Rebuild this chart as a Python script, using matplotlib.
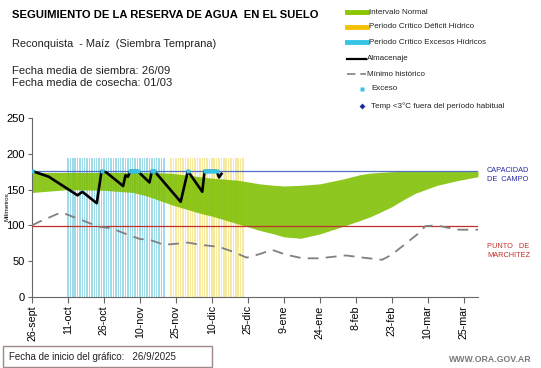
#!/usr/bin/env python3

import matplotlib
matplotlib.use('Agg')
import matplotlib.pyplot as plt
from matplotlib.lines import Line2D
from matplotlib.patches import Rectangle
import numpy as np

plt.rcParams['font.family'] = ['Liberation Sans', 'DejaVu Sans']

# days counted from 26-sept
tick_days = [0, 15, 30, 45, 60, 75, 90, 105, 120, 135, 150, 165, 180]
tick_labels = ['26-sept', '11-oct', '26-oct', '10-nov', '25-nov', '10-dic', '25-dic',
               '9-ene', '24-ene', '8-feb', '23-feb', '10-mar', '25-mar']

capacidad = 176
marchitez = 99
periodo_top = 194
exceso_period = (15, 55)    # periodo critico excesos hidricos
deficit_period = (58, 88)   # periodo critico deficit hidrico

# Intervalo normal (upper / lower)
band_days = [0, 15, 30, 42, 48, 58, 65, 70, 75, 86, 95, 101, 105, 112, 120, 130,
             137, 141, 145, 150, 155, 160, 169, 178, 186]
band_upper = [174, 174, 174, 174, 174, 173, 170, 168, 166, 163, 158, 156, 155, 156, 158, 165,
              171, 173, 174, 175, 176, 176, 176, 176, 176]
band_lower = [146, 150, 149, 146, 141, 129, 122, 117, 113, 102, 93, 88, 84, 82, 88, 99,
              107, 112, 118, 126, 136, 145, 156, 163, 168]

# Almacenaje
alm_days = [0, 7, 19, 21, 27, 29, 31, 38, 39, 40, 41, 44, 49, 50, 51, 62, 65, 71, 72, 77,
            78, 79]
alm_vals = [176, 168, 142, 147, 131, 176, 174, 155, 170, 168, 176, 176, 160, 176, 176, 133,
            176, 147, 176, 176, 167, 172]

# Minimo historico
min_days = [0, 3, 12, 14, 21, 28, 33, 40, 45, 49, 55, 59, 65, 70, 78, 84, 89.5, 95, 100,
            106, 113, 120, 125, 131, 138, 146, 150, 156, 162, 164, 169, 173, 178, 186]
min_vals = [100, 105, 118, 116, 107, 98, 96, 87, 81, 80, 73, 74, 76, 73, 70, 63, 55, 60, 66,
            59, 54, 54, 56, 58, 55, 52, 59, 75, 91, 99, 100, 97, 94, 94]

# Exceso
exceso_days = [0, 29, 41, 42, 43, 44, 50, 51, 65, 72, 73, 74, 75, 76, 77]

green = '#7fbf00'
cyan_bar = '#9fdbe9'
yellow_bar = '#f6e9a0'

W, H = 541, 368
fig = plt.figure(figsize=(W / 100, H / 100), dpi=100)
ax = fig.add_axes([32 / W, 1 - 297 / H, (478 - 32) / W, (297 - 118) / H])


def fx(px):
    return px / W


def fy(py):
    return 1 - py / H


ex = np.arange(exceso_period[0], exceso_period[1] + 1)
de = np.arange(deficit_period[0], deficit_period[1] + 1)
ax.bar(ex, periodo_top, width=0.62, color=cyan_bar, zorder=1)
ax.bar(de, periodo_top, width=0.62, color=yellow_bar, zorder=1)

ax.fill_between(band_days, band_lower, band_upper, color=green, alpha=0.87, lw=0, zorder=2)

ax.axhline(capacidad, color='#5570c8', lw=0.9, zorder=3)
ax.axhline(marchitez, color='#c0302a', lw=0.9, zorder=3)

ax.plot(min_days, min_vals, color='#808080', lw=1.3, dashes=(6, 4), zorder=4)
ax.plot(alm_days, alm_vals, color='black', lw=1.9, zorder=5)
ax.plot(exceso_days, [capacidad] * len(exceso_days), 's', color='#35c3e6', ms=3.2,
        mec='none', zorder=6)

ax.set_xlim(0, 186)
ax.set_ylim(0, 250)
ax.set_yticks([0, 50, 100, 150, 200, 250])
ax.set_xticks(tick_days)
ax.set_xticklabels(tick_labels, rotation=90, fontsize=7.7)
ax.tick_params(axis='y', labelsize=8, length=3, color='#666666', pad=2)
ax.tick_params(axis='x', length=4, color='#666666', pad=2)
for s in ['top', 'right']:
    ax.spines[s].set_visible(False)
for s in ['left', 'bottom']:
    ax.spines[s].set_color('#666666')

fig.text(fx(7), fy(207), 'Milímetros', rotation=90, fontsize=4.5, ha='center', va='center')

# header texts
fig.text(fx(12), fy(15), 'SEGUIMIENTO DE LA RESERVA DE AGUA  EN EL SUELO', fontsize=8.1,
         fontweight='bold', va='center')
fig.text(fx(12), fy(44), 'Reconquista  - Maíz  (Siembra Temprana)', fontsize=7.9,
         va='center', color='#222222')
fig.text(fx(12), fy(71), 'Fecha media de siembra: 26/09', fontsize=8.1, va='center',
         color='#222222')
fig.text(fx(12), fy(83.5), 'Fecha media de cosecha: 01/03', fontsize=8.1, va='center',
         color='#222222')

# legend
legend_rows = [
    ('patch', '#8cc600', 'Intervalo Normal', 12),
    ('patch', '#f2c200', 'Periodo Crítico Déficit Hídrico', 27),
    ('patch', '#35c3e6', 'Periodo Crítico Excesos Hídricos', 42),
    ('line', 'black', 'Almacenaje', 59),
    ('dash', '#808080', 'Mínimo histórico', 74),
    ('dot', '#35c3e6', 'Exceso', 89),
    ('diamond', '#1a2aa0', 'Temp <3°C fuera del período habitual', 106),
]
for kind, col, label, y in legend_rows:
    if kind == 'patch':
        fig.add_artist(Line2D([fx(347), fx(367)], [fy(y), fy(y)], color=col, lw=3.5))
        tx = 369
    elif kind == 'line':
        fig.add_artist(Line2D([fx(347), fx(366)], [fy(y), fy(y)], color=col, lw=1.6))
        tx = 367
    elif kind == 'dash':
        fig.add_artist(Line2D([fx(347), fx(366)], [fy(y), fy(y)], color=col, lw=1.2,
                              dashes=(5, 3)))
        tx = 367
    elif kind == 'dot':
        fig.add_artist(Line2D([fx(362)], [fy(y)], marker='s', ms=2.2, color=col, mec='none'))
        tx = 371
    else:
        fig.add_artist(Line2D([fx(362)], [fy(y)], marker='D', ms=3, color=col, mec='none'))
        tx = 371
    fig.text(fx(tx), fy(y), label, fontsize=5.8, va='center', color='#222222')

fig.text(fx(487), fy(171), 'CAPACIDAD', fontsize=5.3, color='#2a2aa8', va='center')
fig.text(fx(487), fy(179.5), 'DE  CAMPO', fontsize=5.3, color='#2a2aa8', va='center')
fig.text(fx(487), fy(246.5), 'PUNTO   DE', fontsize=5.3, color='#c0302a', va='center')
fig.text(fx(487), fy(255.5), 'MARCHITEZ', fontsize=5.3, color='#c0302a', va='center')

# footer
fig.add_artist(Rectangle((fx(3), fy(367)), fx(209), (367 - 346) / H, fill=False,
                         ec='#a08888', lw=1.0))
fig.text(fx(9), fy(356.5), 'Fecha de inicio del gráfico:   26/9/2025', fontsize=7,
         va='center', color='#222222')
fig.text(fx(532), fy(359), 'WWW.ORA.GOV.AR', fontsize=6.3, ha='right', va='center',
         color='#7a7a7a', fontweight='bold')

fig.savefig('out.png', dpi=100)
